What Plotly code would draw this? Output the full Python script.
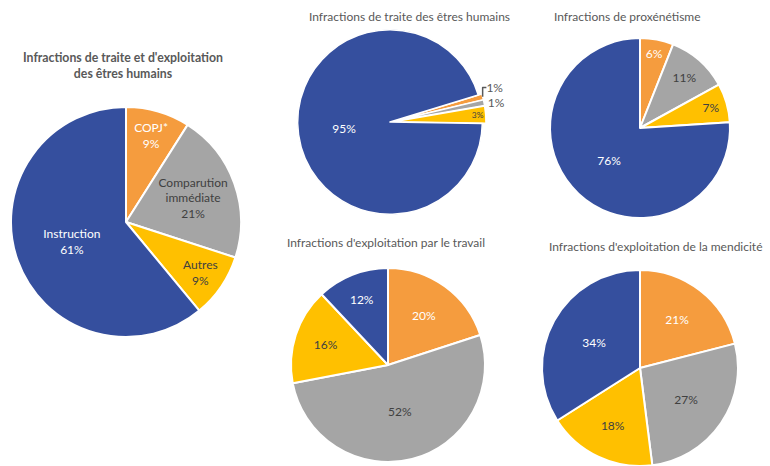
import plotly.graph_objects as go

W, H = 770, 466

# ---- data ----
main_labels = ["COPJ*", "Comparution immédiate", "Autres", "Instruction"]
main_text = ["COPJ*", "Comparution<br>immédiate", "Autres", "Instruction"]
main_values = [9, 21, 9, 61]

cat_labels = ["COPJ*", "Comparution immédiate", "Autres", "Instruction"]
traite_values = [1, 1, 3, 95]
proxen_values = [6, 11, 7, 76]
travail_values = [20, 52, 16, 12]
mendicite_values = [21, 27, 18, 34]

titles = {
    "main": "<b>Infractions de traite et d'exploitation<br>des êtres humains</b>",
    "traite": "Infractions de traite des êtres humains",
    "proxen": "Infractions de proxénétisme",
    "travail": "Infractions d'exploitation par le travail",
    "mendicite": "Infractions d'exploitation de la mendicité",
}

colors = ["#F59C3E", "#A5A5A5", "#FFC000", "#354F9E"]
txt_colors = ["white", "#404040", "#404040", "white"]
FONT = "Lato, Carlito, Calibri, sans-serif"


def dom(cx, cy, r):
    return dict(x=[(cx - r) / W, (cx + r) / W],
                y=[(H - cy - r) / H, (H - cy + r) / H])


fig = go.Figure()

fig.add_trace(go.Pie(
    labels=main_labels, values=main_values, text=main_text,
    texttemplate="%{text}<br>%{value}%", textposition="inside",
    insidetextorientation="horizontal",
    sort=False, direction="clockwise", rotation=0,
    marker=dict(colors=colors, line=dict(color="white", width=2)),
    textfont=dict(family=FONT, size=12, color=txt_colors),
    domain=dom(126, 222, 115), showlegend=False, hoverinfo="label+value",
))

fig.add_trace(go.Pie(
    labels=cat_labels, values=traite_values,
    texttemplate="%{value}%",
    textposition=["outside", "outside", "inside", "inside"],
    insidetextorientation="horizontal",
    sort=False, direction="clockwise", rotation=73,
    pull=[0.04, 0.04, 0.04, 0],
    marker=dict(colors=colors, line=dict(color="white", width=1.5)),
    textfont=dict(family=FONT, size=12, color=["#595959", "#595959", "#404040", "white"]),
    outsidetextfont=dict(family=FONT, size=12, color="#595959"),
    domain=dom(390, 122, 96), showlegend=False,
))

fig.add_trace(go.Pie(
    labels=cat_labels, values=proxen_values,
    texttemplate="%{value}%", textposition="inside",
    insidetextorientation="horizontal",
    sort=False, direction="clockwise", rotation=0,
    marker=dict(colors=colors, line=dict(color="white", width=2)),
    textfont=dict(family=FONT, size=12, color=txt_colors),
    domain=dom(640, 128, 90), showlegend=False,
))

fig.add_trace(go.Pie(
    labels=cat_labels, values=travail_values,
    texttemplate="%{value}%", textposition="inside",
    insidetextorientation="horizontal",
    sort=False, direction="clockwise", rotation=0,
    marker=dict(colors=colors, line=dict(color="white", width=2)),
    textfont=dict(family=FONT, size=12, color=txt_colors),
    domain=dom(388, 365, 97), showlegend=False,
))

fig.add_trace(go.Pie(
    labels=cat_labels, values=mendicite_values,
    texttemplate="%{value}%", textposition="inside",
    insidetextorientation="horizontal",
    sort=False, direction="clockwise", rotation=0,
    marker=dict(colors=colors, line=dict(color="white", width=2)),
    textfont=dict(family=FONT, size=12, color=txt_colors),
    domain=dom(640, 368, 98), showlegend=False,
))

ann = [
    (123, 65, titles["main"], 12.3),
    (410, 16, titles["traite"], 12),
    (627, 16, titles["proxen"], 12),
    (386, 242, titles["travail"], 12),
    (655, 246, titles["mendicite"], 12),
]
for x, y, t, s in ann:
    fig.add_annotation(x=x / W, y=(H - y) / H, xref="paper", yref="paper",
                       text=t, showarrow=False, xanchor="center", yanchor="middle",
                       font=dict(family=FONT, size=s, color="#595959"))

fig.update_layout(width=W, height=H, margin=dict(l=0, r=0, t=0, b=0),
                  paper_bgcolor="white", plot_bgcolor="white",
                  font=dict(family=FONT))

fig.write_html("out.html", config={"displayModeBar": False},
               post_script="document.body.style.margin='0';document.body.style.padding='0';")
